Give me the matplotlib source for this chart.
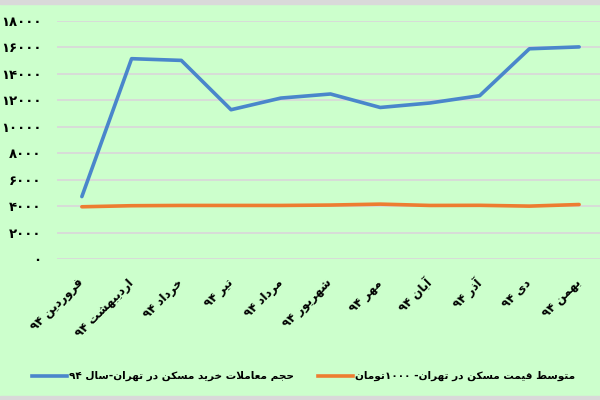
import matplotlib
matplotlib.use("Agg")
import matplotlib.pyplot as plt
from matplotlib.patches import Rectangle
from matplotlib.lines import Line2D

months = ["فروردین ۹۴", "اردیبهشت ۹۴", "خرداد ۹۴", "تیر ۹۴", "مرداد ۹۴",
          "شهریور ۹۴", "مهر ۹۴", "آبان ۹۴", "آذر ۹۴", "دی ۹۴", "بهمن ۹۴"]
volume = [4720, 15150, 15020, 11290, 12170, 12480, 11460, 11800, 12350, 15900, 16040]
price = [3950, 4030, 4050, 4050, 4050, 4080, 4150, 4050, 4060, 4000, 4120]
yticks = [0, 2000, 4000, 6000, 8000, 10000, 12000, 14000, 16000, 18000]
label_volume = "حجم معاملات خرید مسکن در تهران-سال ۹۴"
label_price = "متوسط قیمت مسکن در تهران- ۱۰۰۰تومان"

# --- small arabic/persian shaper, matplotlib does no shaping or bidi ---
FORMS = {
    "ا": ("\uFE8D", "\uFE8E", None, None),
    "آ": ("\uFE81", "\uFE82", None, None),
    "ب": ("\uFE8F", "\uFE90", "\uFE91", "\uFE92"),
    "ت": ("\uFE95", "\uFE96", "\uFE97", "\uFE98"),
    "ج": ("\uFE9D", "\uFE9E", "\uFE9F", "\uFEA0"),
    "ح": ("\uFEA1", "\uFEA2", "\uFEA3", "\uFEA4"),
    "خ": ("\uFEA5", "\uFEA6", "\uFEA7", "\uFEA8"),
    "د": ("\uFEA9", "\uFEAA", None, None),
    "ذ": ("\uFEAB", "\uFEAC", None, None),
    "ر": ("\uFEAD", "\uFEAE", None, None),
    "ز": ("\uFEAF", "\uFEB0", None, None),
    "س": ("\uFEB1", "\uFEB2", "\uFEB3", "\uFEB4"),
    "ش": ("\uFEB5", "\uFEB6", "\uFEB7", "\uFEB8"),
    "ط": ("\uFEC1", "\uFEC2", "\uFEC3", "\uFEC4"),
    "ع": ("\uFEC9", "\uFECA", "\uFECB", "\uFECC"),
    "ف": ("\uFED1", "\uFED2", "\uFED3", "\uFED4"),
    "ق": ("\uFED5", "\uFED6", "\uFED7", "\uFED8"),
    "ل": ("\uFEDD", "\uFEDE", "\uFEDF", "\uFEE0"),
    "م": ("\uFEE1", "\uFEE2", "\uFEE3", "\uFEE4"),
    "ن": ("\uFEE5", "\uFEE6", "\uFEE7", "\uFEE8"),
    "ه": ("\uFEE9", "\uFEEA", "\uFEEB", "\uFEEC"),
    "و": ("\uFEED", "\uFEEE", None, None),
    "ک": ("\uFB8E", "\uFB8F", "\uFB90", "\uFB91"),
    "ی": ("\uFBFC", "\uFBFD", "\uFBFE", "\uFBFF"),
}
LAM_ALEF = {"ا": ("\uFEFB", "\uFEFC"), "آ": ("\uFEF5", "\uFEF6")}


def dual(c):
    return c in FORMS and FORMS[c][2] is not None


def shape(text):
    out = []
    i = 0
    n = len(text)
    while i < n:
        c = text[i]
        if c not in FORMS:
            out.append(c)
            i += 1
            continue
        prev = text[i - 1] if i > 0 else ""
        join_prev = dual(prev)
        if c == "ل" and i + 1 < n and text[i + 1] in LAM_ALEF:
            out.append(LAM_ALEF[text[i + 1]][1 if join_prev else 0])
            i += 2
            continue
        nxt = text[i + 1] if i + 1 < n else ""
        join_next = dual(c) and nxt in FORMS
        iso, fin, ini, med = FORMS[c]
        if join_prev and join_next:
            out.append(med)
        elif join_prev:
            out.append(fin)
        elif join_next:
            out.append(ini)
        else:
            out.append(iso)
        i += 1
    return "".join(out)


def rtl(text):
    s = shape(text)
    runs = []
    for ch in s:
        is_digit = ch.isdigit()
        if runs and runs[-1][0] == is_digit:
            runs[-1][1].append(ch)
        else:
            runs.append((is_digit, [ch]))
    parts = []
    for is_digit, chars in reversed(runs):
        parts.append("".join(chars) if is_digit else "".join(reversed(chars)))
    return "".join(parts)


def fa_num(v):
    return str(v).translate(str.maketrans("0123456789", "۰۱۲۳۴۵۶۷۸۹"))


plt.rcParams["font.family"] = ["DejaVu Sans"]

bg = "#CCFFCC"
fig = plt.figure(figsize=(6, 4), dpi=100, facecolor=bg)
fig.patches.append(Rectangle((0, 0.99), 1, 0.01, transform=fig.transFigure,
                             color="#D9D9D9", zorder=0))
fig.patches.append(Rectangle((0, 0), 1, 0.01, transform=fig.transFigure,
                             color="#D9D9D9", zorder=0))

ax = fig.add_axes([57 / 600, 1 - 259 / 400, 547 / 600, 238 / 400])
ax.set_facecolor(bg)
x = list(range(len(months)))
ax.plot(x, volume, color="#4A86CB", lw=2.6, solid_capstyle="round", zorder=3)
ax.plot(x, price, color="#ED7D31", lw=2.6, solid_capstyle="round", zorder=3)

ax.set_xlim(-0.5, len(months) - 0.5)
ax.set_ylim(0, 18000)
ax.set_yticks(yticks)
ax.set_yticklabels([fa_num(v) for v in yticks], fontsize=9.5, fontweight="bold")
ax.yaxis.grid(True, color="#D9D9D9", lw=1.3)
ax.set_axisbelow(True)
ax.set_xticks(x)
ax.set_xticklabels([rtl(m) for m in months], rotation=45, ha="right",
                   va="center", rotation_mode="anchor", fontsize=8.5,
                   fontweight="bold")
ax.tick_params(axis="both", length=0)
ax.tick_params(axis="y", pad=11)
ax.tick_params(axis="x", pad=16)
for s in ax.spines.values():
    s.set_visible(False)

# legend drawn by hand, right-to-left: marker after the text
renderer = fig.canvas.get_renderer()
for x0, x1, width, col, txt in [(32, 67, 226, "#4A86CB", label_volume),
                                (318, 353, 220, "#ED7D31", label_price)]:
    fig.add_artist(Line2D([x0 / 600, x1 / 600], [1 - 376 / 400] * 2,
                          color=col, lw=2.6, transform=fig.transFigure))
    t = fig.text((x1 + 2) / 600, 1 - 376 / 400, rtl(txt), ha="left",
                 va="center", fontsize=10, fontweight="bold")
    w = t.get_window_extent(renderer).width
    t.set_fontsize(10 * width / w)

fig.savefig("out.png", dpi=100, facecolor=bg)
